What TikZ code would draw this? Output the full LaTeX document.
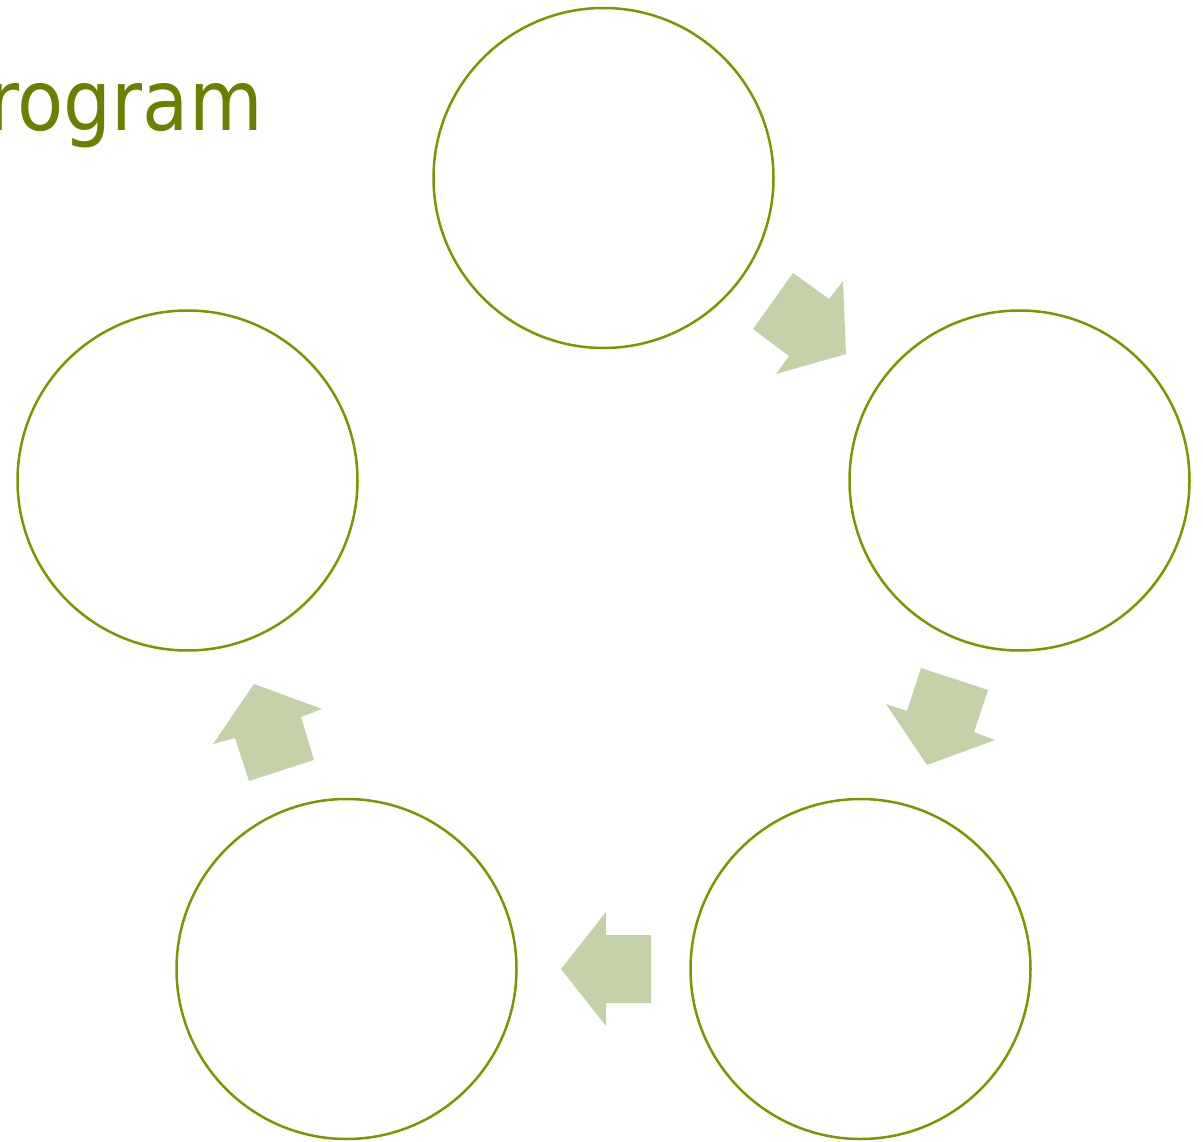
\documentclass[tikz,border=0pt]{standalone}
\usepackage{fontspec}
\newfontfamily\titlefont{DejaVu Sans Condensed}
\definecolor{ring}{RGB}{122,150,0}
\definecolor{titlegreen}{RGB}{107,128,0}
\definecolor{arrowfill}{RGB}{196,209,169}
\begin{document}
\begin{tikzpicture}[x=1pt,y=-1pt,
  ringnode/.style={circle,draw=ring,line width=2.5pt,minimum size=340pt,inner sep=0pt,fill=white},
  blockarrow/.style={fill=arrowfill,draw=none}]
\useasboundingbox (0,0) rectangle (1203,1142);
\node[anchor=base west,text=titlegreen,inner sep=0pt] (title) at (-12,131) {\titlefont\fontsize{84}{100}\selectfont rogram};
\node[ringnode] (c1) at (603.5,178) {};
\node[ringnode] (c2) at (1019.5,480.5) {};
\node[ringnode] (c3) at (860.5,969) {};
\node[ringnode] (c4) at (346.5,969) {};
\node[ringnode] (c5) at (187.5,480.5) {};
\fill[blockarrow] (793,273) -- (829,299) -- (843,281) -- (846,354) -- (776,374) -- (789,356) -- (753,329) -- cycle;
\fill[blockarrow] (921,668) -- (988,690) -- (974,732) -- (995,740) -- (927,765) -- (886,704) -- (907,711) -- cycle;
\fill[blockarrow] (606,912) -- (606,935) -- (651,935) -- (651,1003) -- (606,1003) -- (606,1026) -- (561,969) -- cycle;
\fill[blockarrow] (254,684) -- (322,709) -- (301,717) -- (314,760) -- (249,781) -- (235,738) -- (213,744) -- cycle;
\end{tikzpicture}
\end{document}
